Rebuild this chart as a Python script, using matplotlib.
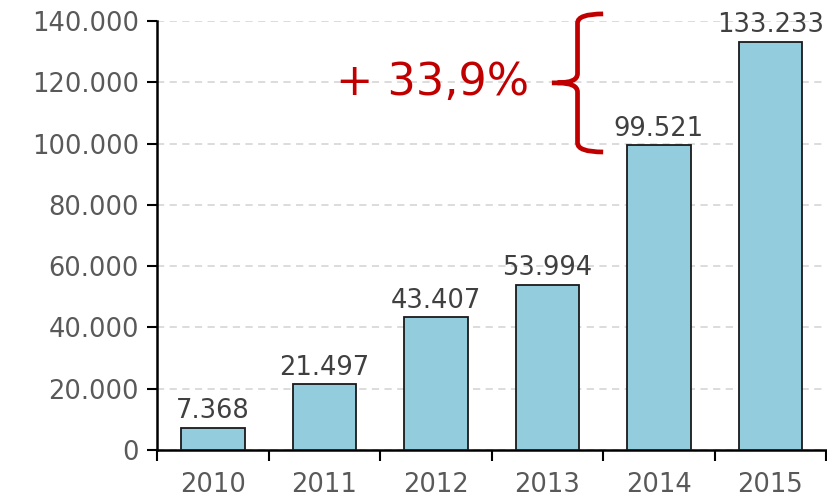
import matplotlib
matplotlib.use("Agg")
import matplotlib.pyplot as plt
from matplotlib.path import Path
from matplotlib.patches import PathPatch

years = ["2010", "2011", "2012", "2013", "2014", "2015"]
values = [7368, 21497, 43407, 53994, 99521, 133233]
value_labels = ["7.368", "21.497", "43.407", "53.994", "99.521", "133.233"]
ytick_vals = [0, 20000, 40000, 60000, 80000, 100000, 120000, 140000]
ytick_labels = ["0", "20.000", "40.000", "60.000", "80.000", "100.000", "120.000", "140.000"]
growth_label = "+ 33,9%"

plt.rcParams['font.family'] = ['DejaVu Sans']
fig = plt.figure(figsize=(8.27, 4.99), dpi=100)
ax = fig.add_axes([0.190, 0.098, 0.809, 0.860])

x = list(range(len(years)))
ax.bar(x, values, width=0.57, color="#93CCDD", edgecolor="#1a1a1a", linewidth=1.3, zorder=3)
for xi, v, lab in zip(x, values, value_labels):
    ax.annotate(lab, (xi, v), xytext=(0, 2.5), textcoords="offset points",
                ha="center", va="bottom", fontsize=18.5, color="#404040", zorder=4)

ax.set_xlim(-0.5, len(years) - 0.5)
ax.set_ylim(0, 140000)
ax.set_yticks(ytick_vals)
ax.set_yticklabels(ytick_labels, fontsize=18.5, color="#595959")
ax.yaxis.grid(True, linestyle=(0, (4, 3)), color="#D9D9D9", linewidth=1.3, zorder=0)
ax.set_axisbelow(True)

# x ticks at category boundaries, labels at centers
ax.set_xticks([i - 0.5 for i in range(len(years) + 1)])
ax.set_xticklabels([])
ax.set_xticks(x, minor=True)
ax.set_xticklabels(years, minor=True, fontsize=18.5, color="#595959")
ax.tick_params(axis="x", which="major", length=8, width=1.5, direction="out", color="black")
ax.tick_params(axis="x", which="minor", length=0, pad=16)
ax.tick_params(axis="y", length=7, width=1.5, direction="out", color="black", pad=6)

for s in ["top", "right"]:
    ax.spines[s].set_visible(False)
for s in ["left", "bottom"]:
    ax.spines[s].set_linewidth(1.8)
    ax.spines[s].set_color("black")

# brace
xv, xh, xt = 3.27, 3.50, 3.04
yt, yb, ym = 142300, 97250, 119800
r = 3000
verts = [(xh, yt), (xv, yt), (xv, yt - r),
         (xv, ym + r),
         (xv, ym), (xt + 0.05, ym),
         (xt, ym),
         (xt + 0.05, ym),
         (xv, ym), (xv, ym - r),
         (xv, yb + r),
         (xv, yb), (xh, yb)]
codes = [Path.MOVETO, Path.CURVE3, Path.CURVE3,
         Path.LINETO,
         Path.CURVE3, Path.CURVE3,
         Path.LINETO,
         Path.MOVETO,
         Path.CURVE3, Path.CURVE3,
         Path.LINETO,
         Path.CURVE3, Path.CURVE3]
ax.add_patch(PathPatch(Path(verts, codes), fill=False, edgecolor="#C00000",
                       linewidth=3.4, clip_on=False, zorder=5, capstyle="butt"))

ax.text(2.84, ym, growth_label, ha="right", va="center", fontsize=32,
        color="#C00000", zorder=5)

fig.savefig("out.png", dpi=100)
